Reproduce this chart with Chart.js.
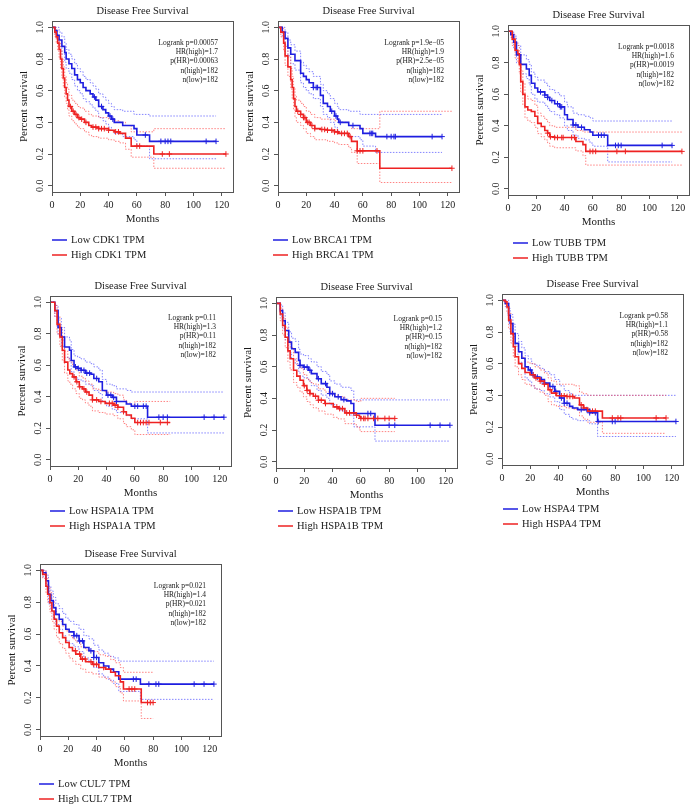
<!DOCTYPE html>
<html lang="en">
<head>
<meta charset="UTF-8">
<title>Disease Free Survival</title>
<script src="https://cdn.jsdelivr.net/npm/chart.js@4.4.1/dist/chart.umd.min.js"></script>
<style>
  body { margin: 0; width: 695px; height: 811px; background: #fff; position: relative; overflow: hidden; }
  canvas { position: absolute; }
</style>
</head>
<body>
<script>
// shared axis ticks
const xTicks = [0, 20, 40, 60, 80, 100, 120];
const yTicks = [0, 0.2, 0.4, 0.6, 0.8, 1.0];
const yTickLabels = ['0.0', '0.2', '0.4', '0.6', '0.8', '1.0'];

// CDK1
const cdk1Stats = ['Logrank p=0.00057', 'HR(high)=1.7', 'p(HR)=0.00063', 'n(high)=182', 'n(low)=182'];
const cdk1LowT = [0, 2, 3.5, 5, 7, 9, 10, 12, 14, 16, 18, 20, 22, 24, 27, 29, 31, 33, 36, 38, 40, 42, 44, 50, 58, 60, 69, 116];
const cdk1LowS = [1, .98, .95, .92, .88, .84, .80, .77, .74, .70, .67, .65, .62, .60, .58, .56, .54, .50, .48, .46, .44, .42, .40, .38, .36, .32, .28, .28];
const cdk1LowU = [1, 1, 1, .97, .94, .90, .86, .83, .80, .77, .74, .72, .69, .67, .65, .63, .61, .58, .56, .54, .52, .50, .48, .47, .45, .45, .44, .44];
const cdk1LowL = [1, .96, .92, .88, .83, .78, .74, .71, .67, .63, .60, .58, .55, .53, .51, .49, .47, .43, .41, .39, .37, .35, .33, .31, .29, .25, .17, .17];
const cdk1LowC = [30, 35, 41, 43, 66, 77, 80, 82, 84, 109, 116];
const cdk1HighT = [0, 2, 3, 4, 5, 6, 7, 8, 9, 10, 11, 12, 14, 16, 18, 20, 23, 26, 28, 33, 40, 44, 48, 52, 56, 72, 123];
const cdk1HighS = [1, .97, .94, .90, .86, .80, .74, .68, .62, .58, .54, .50, .47, .45, .43, .42, .40, .38, .37, .36, .35, .34, .33, .30, .25, .20, .20];
const cdk1HighU = [1, 1, .98, .95, .91, .86, .80, .75, .69, .65, .61, .57, .54, .52, .50, .49, .47, .45, .44, .43, .42, .41, .40, .38, .34, .36, .36];
const cdk1HighL = [1, .94, .90, .85, .81, .74, .68, .62, .56, .52, .48, .44, .41, .39, .37, .36, .34, .32, .31, .30, .29, .28, .27, .23, .18, .11, .11];
const cdk1HighC = [13, 15, 17, 19, 21, 24, 29, 31, 33, 35, 37, 40, 45, 47, 60, 62, 78, 83, 123];

// BRCA1
const brca1Stats = ['Logrank p=1.9e\u221205', 'HR(high)=1.9', 'p(HR)=2.5e\u221205', 'n(high)=182', 'n(low)=182'];
const brca1LowT = [0, 3, 5, 7, 9, 12, 16, 18, 20, 22, 25, 30, 32, 35, 37, 40, 42, 43, 50, 58, 60, 69, 116];
const brca1LowS = [1, .97, .93, .87, .83, .79, .71, .69, .67, .65, .62, .57, .52, .50, .47, .44, .42, .40, .38, .36, .33, .31, .31];
const brca1LowU = [1, 1, .97, .92, .89, .85, .78, .76, .74, .72, .69, .64, .60, .58, .55, .52, .50, .48, .47, .45, .45, .45, .45];
const brca1LowL = [1, .94, .89, .82, .77, .73, .65, .62, .60, .58, .55, .50, .45, .43, .40, .37, .35, .33, .31, .29, .25, .21, .21];
const brca1LowC = [25, 27, 28, 38, 41, 44, 53, 65, 66, 67, 77, 80, 82, 83, 109, 116];
const brca1HighT = [0, 2, 4, 5, 7, 9, 10, 11, 12, 13, 16, 18, 20, 23, 26, 30, 35, 40, 43, 50, 52, 56, 72, 123];
const brca1HighS = [1, .97, .90, .82, .75, .67, .62, .55, .50, .47, .45, .43, .40, .38, .36, .355, .35, .34, .33, .31, .28, .22, .11, .11];
const brca1HighU = [1, 1, .95, .88, .81, .74, .69, .62, .57, .54, .52, .50, .47, .45, .43, .42, .42, .41, .40, .38, .36, .36, .47, .47];
const brca1HighL = [1, .94, .85, .76, .69, .61, .55, .48, .43, .40, .38, .36, .33, .31, .29, .29, .28, .27, .26, .24, .21, .14, .02, .02];
const brca1HighC = [14, 16, 18, 19, 21, 22, 24, 26, 31, 33, 35, 38, 40, 42, 45, 47, 49, 51, 56, 58, 60, 70, 123];

// TUBB
const tubbStats = ['Logrank p=0.0018', 'HR(high)=1.6', 'p(HR)=0.0019', 'n(high)=182', 'n(low)=182'];
const tubbLowT = [0, 2, 4, 6, 9, 13, 15, 16.5, 19, 21, 26, 28, 29.5, 33, 36.5, 40, 42, 46, 49.5, 54, 58, 60, 70.5, 116];
const tubbLowS = [1, .98, .93, .85, .79, .76, .72, .67, .64, .615, .595, .58, .56, .54, .52, .47, .44, .405, .39, .375, .36, .34, .275, .275];
const tubbLowU = [1, 1, .97, .91, .85, .82, .79, .74, .71, .69, .67, .65, .63, .61, .59, .55, .52, .48, .47, .46, .45, .43, .43, .43];
const tubbLowL = [1, .96, .89, .80, .73, .70, .66, .60, .57, .55, .53, .51, .49, .47, .45, .40, .37, .34, .32, .31, .29, .27, .17, .17];
const tubbLowC = [23, 26, 28, 31, 35, 37, 38, 46, 48, 52, 64, 66, 68, 76, 78, 80, 109, 116];
const tubbHighT = [0, 3, 5, 7, 8, 9, 10.5, 12, 14, 16.5, 19, 21, 23.5, 26, 28, 29.5, 33, 48, 53, 55, 123];
const tubbHighS = [1, .95, .88, .857, .79, .68, .60, .52, .50, .49, .46, .415, .395, .37, .353, .33, .325, .30, .28, .237, .237];
const tubbHighU = [1, .98, .93, .91, .85, .75, .67, .59, .57, .56, .53, .48, .46, .44, .42, .40, .39, .37, .36, .36, .36];
const tubbHighL = [1, .91, .83, .80, .73, .61, .53, .45, .43, .42, .39, .35, .33, .31, .29, .27, .26, .24, .21, .15, .15];
const tubbHighC = [28, 30, 33, 35, 38, 39, 45, 47, 58, 60, 62, 77, 83, 123];

// HSPA1A
const hspa1aStats = ['Logrank p=0.11', 'HR(high)=1.3', 'p(HR)=0.11', 'n(high)=182', 'n(low)=182'];
const hspa1aLowT = [0, 3.4, 5.7, 8, 10.3, 13.8, 15, 17, 19.5, 22, 25, 29, 31, 34.5, 37, 40, 44, 47, 54, 57.5, 69, 123];
const hspa1aLowS = [1, .947, .84, .78, .716, .695, .63, .59, .58, .568, .55, .543, .516, .495, .44, .41, .396, .37, .354, .34, .27, .27];
const hspa1aLowU = [1, .98, .90, .84, .78, .76, .70, .66, .65, .64, .62, .61, .59, .57, .51, .48, .47, .45, .44, .43, .43, .43];
const hspa1aLowL = [1, .91, .79, .72, .65, .63, .56, .52, .51, .50, .48, .47, .44, .42, .37, .34, .32, .30, .28, .26, .17, .17];
const hspa1aLowC = [18, 20, 22, 24, 26, 28, 33, 41, 43, 45, 47, 60, 62, 66, 68, 77, 80, 83, 109, 116, 123];
const hspa1aHighT = [0, 3.4, 5, 7, 8.7, 10.3, 12.6, 14, 16, 18.4, 20.7, 23, 25, 27.6, 30, 34.5, 39, 45, 48, 52, 54, 57.5, 60, 85];
const hspa1aHighS = [1, .947, .86, .78, .695, .62, .57, .547, .526, .495, .463, .45, .43, .41, .38, .37, .358, .347, .333, .305, .284, .263, .236, .236];
const hspa1aHighU = [1, .98, .91, .84, .76, .69, .64, .62, .60, .57, .53, .52, .50, .48, .45, .44, .43, .42, .41, .38, .36, .35, .37, .37];
const hspa1aHighL = [1, .91, .80, .72, .63, .55, .50, .48, .45, .42, .39, .38, .36, .34, .31, .30, .29, .28, .26, .23, .21, .19, .16, .16];
const hspa1aHighC = [17, 19, 21, 24, 26, 30, 33, 36, 42, 44, 46, 48, 52, 62, 64, 66, 68, 70, 78, 83];

// HSPA1B
const hspa1bStats = ['Logrank p=0.15', 'HR(high)=1.2', 'p(HR)=0.15', 'n(high)=182', 'n(low)=182'];
const hspa1bLowT = [0, 3, 4.7, 6.5, 9, 11, 13.6, 16, 17, 19.4, 23, 25, 29, 32, 36, 38, 41.6, 46, 50, 53, 55, 70, 123];
const hspa1bLowS = [1, .954, .89, .828, .755, .713, .69, .64, .608, .597, .577, .556, .524, .493, .47, .43, .41, .392, .384, .367, .304, .23, .23];
const hspa1bLowU = [1, .99, .94, .88, .82, .78, .76, .71, .68, .67, .65, .63, .60, .57, .55, .51, .49, .47, .47, .45, .39, .39, .39];
const hspa1bLowL = [1, .92, .84, .77, .69, .65, .62, .57, .54, .53, .51, .48, .45, .42, .40, .36, .34, .32, .31, .29, .22, .13, .13];
const hspa1bLowC = [17, 20, 22, 24, 30, 35, 38, 40, 44, 48, 65, 67, 80, 84, 109, 116, 123];
const hspa1bHighT = [0, 3, 4.7, 6.5, 8.4, 10, 12.4, 14.7, 17, 19.4, 21.8, 24, 26.4, 30, 34.6, 40.5, 44, 48.7, 56.8, 59, 60, 84];
const hspa1bHighS = [1, .933, .86, .786, .70, .65, .577, .54, .514, .48, .45, .43, .413, .388, .367, .346, .335, .308, .293, .283, .273, .273];
const hspa1bHighU = [1, .97, .91, .85, .77, .72, .65, .61, .59, .55, .52, .50, .49, .46, .44, .42, .41, .39, .38, .38, .40, .40];
const hspa1bHighL = [1, .89, .80, .72, .63, .58, .50, .47, .44, .41, .38, .36, .34, .32, .30, .28, .27, .24, .22, .20, .19, .19];
const hspa1bHighC = [20, 22, 24, 28, 30, 32, 35, 43, 45, 47, 50, 52, 55, 57, 60, 62, 63, 65, 69, 72, 77, 80, 84];

// HSPA4
const hspa4Stats = ['Logrank p=0.58', 'HR(high)=1.1', 'p(HR)=0.58', 'n(high)=182', 'n(low)=182'];
const hspa4LowT = [0, 2.3, 4.7, 5.8, 7.7, 9.3, 11.7, 14, 16.3, 18.6, 21, 23.3, 26.8, 30, 33.8, 37.3, 40.8, 44, 47.8, 50, 53.6, 62, 67.6, 123];
const hspa4LowS = [1, .98, .906, .854, .79, .728, .675, .634, .58, .56, .53, .515, .50, .477, .456, .425, .383, .35, .33, .32, .31, .29, .235, .235];
const hspa4LowU = [1, 1, .95, .91, .85, .79, .74, .70, .65, .63, .60, .59, .57, .55, .53, .50, .46, .43, .41, .40, .40, .40, .40, .40];
const hspa4LowL = [1, .96, .86, .80, .73, .66, .61, .57, .51, .49, .46, .44, .43, .41, .39, .36, .31, .28, .26, .25, .24, .22, .14, .14];
const hspa4LowC = [20, 22, 25, 28, 30, 36, 38, 42, 44, 46, 56, 60, 62, 66, 68, 78, 80, 123];
const hspa4HighT = [0, 2.3, 3.5, 4.7, 6.3, 8, 9.3, 11.7, 14, 16.3, 19.8, 23.3, 26.8, 30, 32.6, 35, 38.5, 45.5, 51, 54.8, 57.6, 60.6, 71, 116];
const hspa4HighS = [1, .99, .958, .875, .79, .707, .644, .60, .57, .544, .53, .51, .49, .47, .435, .414, .397, .393, .383, .34, .32, .30, .257, .257];
const hspa4HighU = [1, 1, .99, .92, .85, .77, .71, .67, .64, .61, .60, .58, .56, .54, .51, .49, .47, .47, .46, .42, .41, .40, .40, .40];
const hspa4HighL = [1, .97, .92, .82, .73, .64, .58, .53, .50, .47, .46, .44, .42, .40, .36, .34, .33, .32, .31, .27, .25, .23, .16, .16];
const hspa4HighC = [22, 24, 27, 30, 34, 38, 42, 44, 46, 48, 50, 56, 58, 62, 64, 66, 78, 82, 84, 109, 116];

// CUL7
const cul7Stats = ['Logrank p=0.021', 'HR(high)=1.4', 'p(HR)=0.021', 'n(high)=182', 'n(low)=182'];
const cul7LowT = [0, 1.9, 4.2, 6, 7.7, 9.4, 11.2, 13.6, 16, 18.2, 20.6, 24, 27.6, 31, 34.6, 38, 41.6, 45, 48.7, 52, 55.7, 71, 123];
const cul7LowS = [1, .985, .935, .85, .81, .766, .724, .693, .66, .63, .614, .59, .557, .516, .495, .453, .42, .40, .38, .363, .317, .286, .286];
const cul7LowU = [1, 1, .97, .90, .87, .83, .79, .76, .73, .70, .68, .66, .63, .59, .57, .53, .50, .48, .46, .45, .43, .43, .43];
const cul7LowL = [1, .96, .89, .79, .75, .70, .66, .63, .59, .56, .54, .52, .49, .45, .43, .39, .35, .33, .31, .29, .24, .19, .19];
const cul7LowC = [24, 26, 28, 30, 36, 38, 40, 66, 68, 77, 82, 84, 109, 116, 123];
const cul7HighT = [0, 1.9, 4.2, 5.4, 7, 8.4, 10, 11.7, 13.6, 16, 18.2, 20.6, 23, 25.3, 28.8, 32.3, 37, 41.6, 46.3, 50, 53.3, 56.8, 59, 71.6, 80];
const cul7HighS = [1, .975, .90, .85, .797, .745, .693, .65, .608, .578, .547, .516, .495, .474, .443, .426, .41, .39, .38, .36, .338, .30, .255, .17, .17];
const cul7HighU = [1, 1, .95, .90, .86, .81, .76, .72, .68, .65, .62, .59, .57, .55, .52, .50, .49, .47, .46, .44, .42, .39, .36, .36, .36];
const cul7HighL = [1, .95, .86, .80, .74, .68, .63, .58, .54, .51, .48, .45, .43, .41, .38, .36, .35, .33, .32, .30, .27, .23, .18, .07, .07];
const cul7HighC = [25, 28, 30, 32, 36, 38, 40, 45, 63, 65, 67, 76, 78, 80];

const blue = '#1e1ee0', red = '#ee2222';
const blueCI = 'rgba(80,80,255,0.7)', redCI = 'rgba(255,80,80,0.7)';

// plot boxes on the page: [left, top, right, bottom], legend offsets
const panels = [
  { gene: 'CDK1', stats: cdk1Stats, box: [52, 21, 233, 192], ldx: 0, ldy: 48,
    low: [cdk1LowT, cdk1LowS, cdk1LowU, cdk1LowL, cdk1LowC], high: [cdk1HighT, cdk1HighS, cdk1HighU, cdk1HighL, cdk1HighC] },
  { gene: 'BRCA1', stats: brca1Stats, box: [278, 21, 459, 192], ldx: -5, ldy: 48,
    low: [brca1LowT, brca1LowS, brca1LowU, brca1LowL, brca1LowC], high: [brca1HighT, brca1HighS, brca1HighU, brca1HighL, brca1HighC] },
  { gene: 'TUBB', stats: tubbStats, box: [508, 25, 689, 195], ldx: 5, ldy: 48,
    low: [tubbLowT, tubbLowS, tubbLowU, tubbLowL, tubbLowC], high: [tubbHighT, tubbHighS, tubbHighU, tubbHighL, tubbHighC] },
  { gene: 'HSPA1A', stats: hspa1aStats, box: [50, 296, 231, 466], ldx: 0, ldy: 45,
    low: [hspa1aLowT, hspa1aLowS, hspa1aLowU, hspa1aLowL, hspa1aLowC], high: [hspa1aHighT, hspa1aHighS, hspa1aHighU, hspa1aHighL, hspa1aHighC] },
  { gene: 'HSPA1B', stats: hspa1bStats, box: [276, 297, 457, 468], ldx: 2, ldy: 43,
    low: [hspa1bLowT, hspa1bLowS, hspa1bLowU, hspa1bLowL, hspa1bLowC], high: [hspa1bHighT, hspa1bHighS, hspa1bHighU, hspa1bHighL, hspa1bHighC] },
  { gene: 'HSPA4', stats: hspa4Stats, box: [502, 294, 683, 465], ldx: 1, ldy: 44,
    low: [hspa4LowT, hspa4LowS, hspa4LowU, hspa4LowL, hspa4LowC], high: [hspa4HighT, hspa4HighS, hspa4HighU, hspa4HighL, hspa4HighC] },
  { gene: 'CUL7', stats: cul7Stats, box: [40, 564, 221, 736], ldx: -1, ldy: 48,
    low: [cul7LowT, cul7LowS, cul7LowU, cul7LowL, cul7LowC], high: [cul7HighT, cul7HighS, cul7HighU, cul7HighL, cul7HighC] }
];

function pts(T, V) { return T.map((t, i) => ({ x: t, y: V[i] })); }

// value of the KM step function at time c
function stepAt(T, S, c) {
  let v = S[0];
  for (let i = 0; i < T.length; i++) if (T[i] <= c) v = S[i];
  return v;
}

function line(T, V, color, label) {
  return { label: label, data: pts(T, V), borderColor: color, borderWidth: 1.6, stepped: true, pointRadius: 0, fill: false };
}
function ciLine(T, V, color) {
  return { data: pts(T, V), borderColor: color, borderWidth: 1, borderDash: [1.5, 1.5], stepped: true, pointRadius: 0, fill: false };
}
function censor(T, S, C, color) {
  return { data: C.map(c => ({ x: c, y: stepAt(T, S, c) })), showLine: false, pointStyle: 'cross',
    pointRadius: 2.8, pointBorderWidth: 1, borderColor: color, backgroundColor: color };
}

const serif = '"Liberation Serif", "DejaVu Serif", serif';

const decor = {
  id: 'decor',
  afterDraw(chart, args, o) {
    const ctx = chart.ctx, a = chart.chartArea, xs = chart.scales.x, ys = chart.scales.y;
    ctx.save();
    ctx.strokeStyle = '#555';
    ctx.lineWidth = 1;
    ctx.strokeRect(Math.round(a.left) + 0.5, Math.round(a.top) + 0.5, Math.round(a.right - a.left), Math.round(a.bottom - a.top));
    ctx.fillStyle = '#1a1a1a';
    ctx.textAlign = 'center';
    ctx.textBaseline = 'middle';
    ctx.font = '10px ' + serif;
    xTicks.forEach(v => ctx.fillText(String(v), xs.getPixelForValue(v), a.bottom + 13));
    yTicks.forEach((v, i) => {
      ctx.save();
      ctx.translate(a.left - 12, ys.getPixelForValue(v));
      ctx.rotate(-Math.PI / 2);
      ctx.fillText(yTickLabels[i], 0, 0);
      ctx.restore();
    });
    ctx.font = '10.5px ' + serif;
    ctx.fillText('Disease Free Survival', (a.left + a.right) / 2, a.top - 10);
    ctx.font = '11px ' + serif;
    ctx.fillText('Months', (a.left + a.right) / 2, a.bottom + 27);
    ctx.save();
    ctx.translate(a.left - 28, (a.top + a.bottom) / 2);
    ctx.rotate(-Math.PI / 2);
    ctx.fillText('Percent survival', 0, 0);
    ctx.restore();

    ctx.font = '7.5px ' + serif;
    ctx.textAlign = 'right';
    o.stats.forEach((s, i) => ctx.fillText(s, a.right - 15, a.top + 22 + i * 9.2));

    // legend from the two main datasets (low first)
    ctx.font = '10.5px ' + serif;
    ctx.textAlign = 'left';
    const ds = chart.data.datasets;
    [ds[1], ds[0]].forEach((d, i) => {
      const x = a.left + o.ldx, y = a.bottom + o.ldy + i * 15;
      ctx.strokeStyle = d.borderColor;
      ctx.lineWidth = 1.5;
      ctx.beginPath();
      ctx.moveTo(x, y);
      ctx.lineTo(x + 15, y);
      ctx.stroke();
      ctx.fillStyle = '#1a1a1a';
      ctx.fillText(d.label, x + 19, y + 0.5);
    });
    ctx.restore();
  }
};

panels.forEach(p => {
  const [L, T, R, B] = p.box;
  const cv = document.createElement('canvas');
  cv.width = R - L + 60;
  cv.height = B - T + 28 + 75;
  cv.style.left = (L - 55) + 'px';
  cv.style.top = (T - 28) + 'px';
  document.body.appendChild(cv);

  const [lT, lS, lU, lL, lC] = p.low;
  const [hT, hS, hU, hL, hC] = p.high;

  new Chart(cv.getContext('2d'), {
    type: 'line',
    data: {
      datasets: [
        line(hT, hS, red, 'High ' + p.gene + ' TPM'),
        line(lT, lS, blue, 'Low ' + p.gene + ' TPM'),
        censor(hT, hS, hC, red),
        censor(lT, lS, lC, blue),
        ciLine(hT, hU, redCI),
        ciLine(hT, hL, redCI),
        ciLine(lT, lU, blueCI),
        ciLine(lT, lL, blueCI)
      ]
    },
    options: {
      responsive: false,
      animation: false,
      devicePixelRatio: 1,
      layout: { padding: { left: 45, top: 28, right: 5, bottom: 65 } },
      plugins: {
        legend: { display: false },
        tooltip: { enabled: false },
        decor: { stats: p.stats, ldx: p.ldx, ldy: p.ldy }
      },
      scales: {
        x: {
          type: 'linear', min: 0, max: 128,
          afterBuildTicks: s => { s.ticks = xTicks.map(v => ({ value: v })); },
          afterFit: s => { s.height = 10; },
          ticks: { display: false },
          grid: { drawOnChartArea: false, tickLength: 4, color: '#555' },
          border: { display: false }
        },
        y: {
          type: 'linear', min: -0.04, max: 1.04,
          afterBuildTicks: s => { s.ticks = yTicks.map(v => ({ value: v })); },
          afterFit: s => { s.width = 10; },
          ticks: { display: false },
          grid: { drawOnChartArea: false, tickLength: 4, color: '#555' },
          border: { display: false }
        }
      }
    },
    plugins: [decor]
  });
});
</script>
</body>
</html>
